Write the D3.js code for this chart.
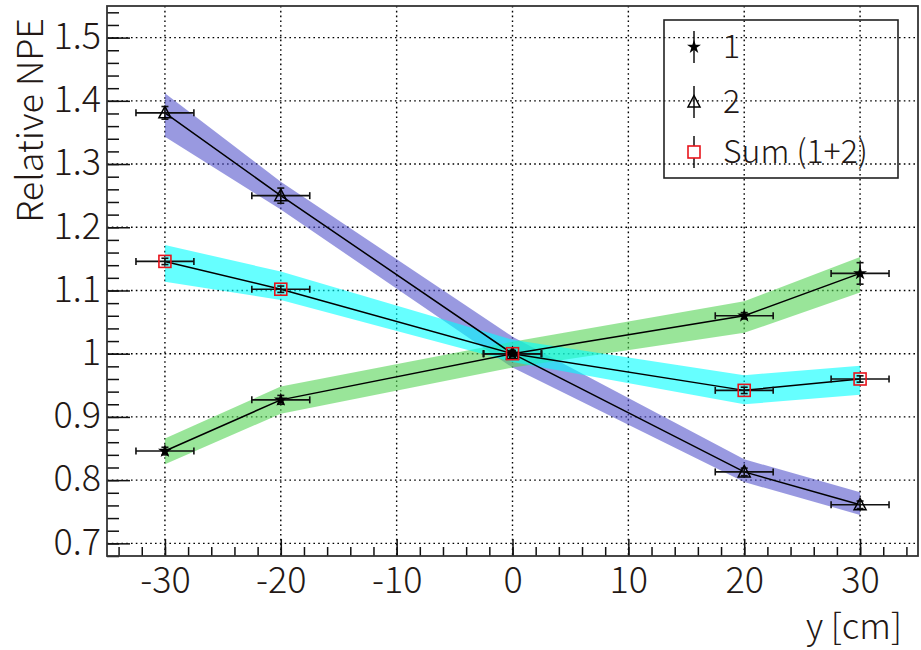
<!DOCTYPE html>
<html>
<head>
<meta charset="utf-8">
<script src="https://cdn.jsdelivr.net/npm/d3@7"></script>
<style>
  body { margin: 0; background: #fff; }
  text { font-family: "Noto Sans CJK JP", "Noto Sans", sans-serif; font-weight: 300; fill: #231815; }
</style>
</head>
<body>
<div id="chart"></div>
<script>
// positions along y [cm]
var posY = [-30, -20, 0, 20, 30];
var xErr = [2.5, 2.5, 2.5, 2.5, 2.5];

// series 1 (stars)
var npe1 = [0.846, 0.927, 1.000, 1.060, 1.127];
var err1 = [0.006, 0.007, 0.004, 0.005, 0.017];
var band1Lo = [0.825, 0.905, 0.978, 1.033, 1.097];
var band1Hi = [0.866, 0.948, 1.019, 1.083, 1.153];

// series 2 (triangles)
var npe2 = [1.381, 1.250, 1.000, 0.813, 0.761];
var err2 = [0.010, 0.012, 0.005, 0.006, 0.006];
var band2Lo = [1.343, 1.228, 0.978, 0.797, 0.745];
var band2Hi = [1.412, 1.272, 1.027, 0.833, 0.781];

// sum (squares)
var npeS = [1.146, 1.102, 1.000, 0.942, 0.960];
var errS = [0.005, 0.005, 0.004, 0.005, 0.005];
var bandSLo = [1.114, 1.085, 0.987, 0.920, 0.935];
var bandSHi = [1.172, 1.130, 1.022, 0.966, 0.981];

var xMajor = [-30, -20, -10, 0, 10, 20, 30];
var yMajor = [0.7, 0.8, 0.9, 1.0, 1.1, 1.2, 1.3, 1.4, 1.5];
var legendNames = ["1", "2", "Sum (1+2)"];

var margin = {top: 6, right: 3, bottom: 94, left: 107},
    width = 921 - margin.left - margin.right,
    height = 650 - margin.top - margin.bottom;

var svg = d3.select("#chart")
  .append("svg")
    .attr("width", 921)
    .attr("height", 650)
  .append("g")
    .attr("transform", "translate(" + margin.left + "," + margin.top + ")");

var x = d3.scaleLinear().domain([-35, 35]).range([0, width]);
var y = d3.scaleLinear().domain([0.68, 1.55]).range([height, 0]);

// grid
svg.selectAll(".gx").data(xMajor).enter().append("line")
  .attr("x1", d => x(d)).attr("x2", d => x(d))
  .attr("y1", 0).attr("y2", height)
  .attr("stroke", "#000").attr("stroke-width", 1.4).attr("stroke-dasharray", "1.6,3.2");
svg.selectAll(".gy").data(yMajor).enter().append("line")
  .attr("y1", d => y(d)).attr("y2", d => y(d))
  .attr("x1", 0).attr("x2", width)
  .attr("stroke", "#000").attr("stroke-width", 1.4).attr("stroke-dasharray", "1.6,3.2");

// bands
function band(lo, hi, color) {
  var pts = posY.map((d, i) => ({x: d, lo: lo[i], hi: hi[i]}));
  svg.append("path")
    .datum(pts)
    .attr("d", d3.area().x(d => x(d.x)).y0(d => y(d.lo)).y1(d => y(d.hi)))
    .attr("fill", color)
    .attr("fill-opacity", 0.6);
}
band(band2Lo, band2Hi, "#5555cc");
band(band1Lo, band1Hi, "#55d455");
band(bandSLo, bandSHi, "#00ffff");

// lines
var line = d3.line().x(d => x(d[0])).y(d => y(d[1]));
[npe1, npe2, npeS].forEach(function(vals) {
  svg.append("path")
    .datum(posY.map((d, i) => [d, vals[i]]))
    .attr("d", line)
    .attr("fill", "none")
    .attr("stroke", "#000")
    .attr("stroke-width", 1.5);
});

// error bars
function errors(vals, errs) {
  var g = svg.append("g").attr("stroke", "#111").attr("stroke-width", 1.6);
  posY.forEach(function(d, i) {
    g.append("line").attr("x1", x(d - xErr[i])).attr("x2", x(d + xErr[i]))
      .attr("y1", y(vals[i])).attr("y2", y(vals[i]));
    g.append("line").attr("x1", x(d - xErr[i])).attr("x2", x(d - xErr[i]))
      .attr("y1", y(vals[i]) - 3.5).attr("y2", y(vals[i]) + 3.5);
    g.append("line").attr("x1", x(d + xErr[i])).attr("x2", x(d + xErr[i]))
      .attr("y1", y(vals[i]) - 3.5).attr("y2", y(vals[i]) + 3.5);
    g.append("line").attr("x1", x(d)).attr("x2", x(d))
      .attr("y1", y(vals[i] - errs[i])).attr("y2", y(vals[i] + errs[i]));
    g.append("line").attr("x1", x(d) - 3.5).attr("x2", x(d) + 3.5)
      .attr("y1", y(vals[i] - errs[i])).attr("y2", y(vals[i] - errs[i]));
    g.append("line").attr("x1", x(d) - 3.5).attr("x2", x(d) + 3.5)
      .attr("y1", y(vals[i] + errs[i])).attr("y2", y(vals[i] + errs[i]));
  });
}
errors(npe1, err1);
errors(npe2, err2);
errors(npeS, errS);

// markers
var star = d3.symbol().type(d3.symbolStar).size(60);
var tri = "M0,-6.5L6,5L-6,5Z";
function drawStar(g, cx, cy) {
  g.append("path").attr("d", star()).attr("transform", "translate(" + cx + "," + cy + ")")
    .attr("fill", "#000");
}
function drawTri(g, cx, cy) {
  g.append("path").attr("d", tri).attr("transform", "translate(" + cx + "," + cy + ")")
    .attr("fill", "none").attr("stroke", "#000").attr("stroke-width", 1.5);
}
function drawSquare(g, cx, cy) {
  g.append("rect").attr("x", cx - 6).attr("y", cy - 6).attr("width", 12).attr("height", 12)
    .attr("fill", "none").attr("stroke", "#e8141c").attr("stroke-width", 1.6);
}
posY.forEach(function(d, i) {
  drawStar(svg, x(d), y(npe1[i]));
  drawTri(svg, x(d), y(npe2[i]));
  drawSquare(svg, x(d), y(npeS[i]));
});

// axes
var yMinor = d3.range(0.68, 1.5501, 0.02);
var xMinor = d3.range(-34, 34.01, 2);
svg.append("g")
  .call(d3.axisLeft(y).tickValues(yMinor).tickSize(-12).tickFormat(""))
  .call(g => g.select(".domain").remove())
  .selectAll("line").attr("stroke", "#111").attr("stroke-width", 1.5);
svg.append("g")
  .call(d3.axisLeft(y).tickValues(yMajor).tickSize(-23).tickPadding(30)
    .tickFormat(d => Math.abs(d - 1) < 1e-9 ? "1" : d.toFixed(1)))
  .call(g => g.select(".domain").remove())
  .call(g => g.selectAll("line").attr("stroke", "#111").attr("stroke-width", 1.5))
  .selectAll("text")
    .attr("x", -6).attr("dy", "0.3em")
    .style("font-size", "36px").style("font-family", null);

svg.append("g")
  .attr("transform", "translate(0," + height + ")")
  .call(d3.axisBottom(x).tickValues(xMinor).tickSize(-9).tickFormat(""))
  .call(g => g.select(".domain").remove())
  .selectAll("line").attr("stroke", "#111").attr("stroke-width", 1.5);
svg.append("g")
  .attr("transform", "translate(0," + height + ")")
  .call(d3.axisBottom(x).tickValues(xMajor).tickSize(-17).tickFormat(d => String(d)))
  .call(g => g.select(".domain").remove())
  .call(g => g.selectAll("line").attr("stroke", "#111").attr("stroke-width", 1.5))
  .selectAll("text")
    .attr("y", 37).attr("dy", 0)
    .style("font-size", "36px").style("font-family", null);

// frame
svg.append("rect")
  .attr("width", width).attr("height", height)
  .attr("fill", "none").attr("stroke", "#333").attr("stroke-width", 1.8);

// axis titles
svg.append("text")
  .attr("transform", "rotate(-90)")
  .attr("x", -12).attr("y", 43 - margin.left)
  .attr("text-anchor", "end")
  .style("font-size", "36px")
  .text("Relative NPE");
svg.append("text")
  .attr("x", width - 16).attr("y", 639 - margin.top)
  .attr("text-anchor", "end")
  .style("font-size", "35px")
  .text("y [cm]");

// legend
var lg = svg.append("g").attr("transform", "translate(" + (664 - margin.left) + "," + (20 - margin.top) + ")");
lg.append("rect").attr("width", 234).attr("height", 158)
  .attr("fill", "none").attr("stroke", "#222").attr("stroke-width", 1.6);
var rowsY = [27, 82, 132];
rowsY.forEach(function(ry, i) {
  lg.append("line").attr("x1", 30).attr("x2", 30).attr("y1", ry - 16).attr("y2", ry + 16)
    .attr("stroke", "#111").attr("stroke-width", 1.5);
  if (i === 0) drawStar(lg, 30, ry);
  if (i === 1) drawTri(lg, 30, ry);
  if (i === 2) {
    lg.append("rect").attr("x", 24).attr("y", ry - 6).attr("width", 12).attr("height", 12)
      .attr("fill", "#fff").attr("stroke", "#e8141c").attr("stroke-width", 1.6);
  }
  lg.append("text").attr("x", 59).attr("y", ry + 11)
    .style("font-size", "32px")
    .text(legendNames[i]);
});
</script>
</body>
</html>
